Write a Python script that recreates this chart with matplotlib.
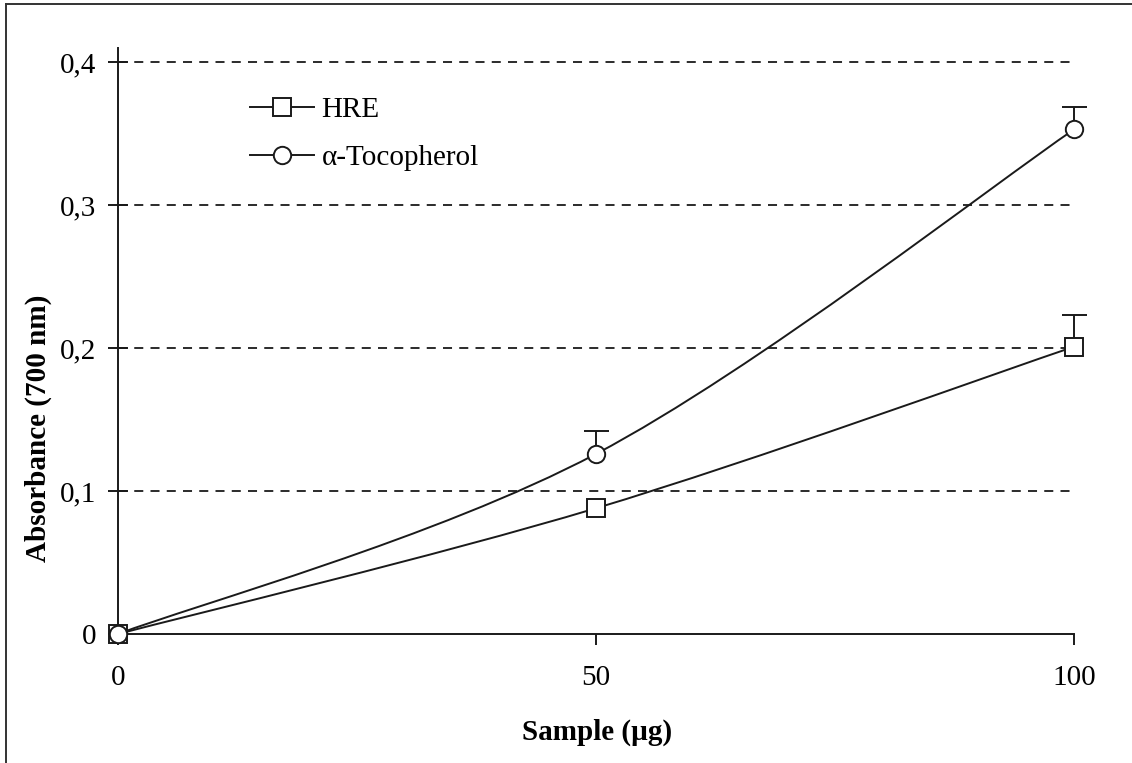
import matplotlib
matplotlib.use("Agg")
import matplotlib.pyplot as plt
from matplotlib.path import Path
from matplotlib.patches import PathPatch
from matplotlib.lines import Line2D
import numpy as np

# ---- data ----
sample_ug = [0, 50, 100]
hre = [0.0, 0.088, 0.201]
hre_err = [0.0, 0.0, 0.022]
toco = [0.0, 0.126, 0.353]
toco_err = [0.0, 0.016, 0.016]
yticks = [0, 0.1, 0.2, 0.3, 0.4]
ytick_labels = ["0", "0,1", "0,2", "0,3", "0,4"]
xticks = [0, 50, 100]
series_names = ["HRE", "α-Tocopherol"]

plt.rcParams['font.family'] = ['Liberation Serif', 'DejaVu Serif']

W, H = 1132, 763
fig = plt.figure(figsize=(W / 100, H / 100), dpi=100)
left, right, bottom, top = 118, 1074, 634, 48
ax = fig.add_axes([left / W, 1 - bottom / H, (right - left) / W, (bottom - top) / H])

ax.set_xlim(0, 100)
ax.set_ylim(0, 0.41)

ink = '#1a1a1a'
FS = 21


def smooth_path(xs, ys):
    pts = np.column_stack([xs, ys]).astype(float)
    n = len(pts)
    verts = [pts[0]]
    codes = [Path.MOVETO]
    for i in range(n - 1):
        p0 = pts[i - 1] if i > 0 else pts[i]
        p1 = pts[i]
        p2 = pts[i + 1]
        p3 = pts[i + 2] if i + 2 < n else pts[i + 1]
        c1 = p1 + (p2 - p0) / 6.0
        c2 = p2 - (p3 - p1) / 6.0
        verts += [c1, c2, p2]
        codes += [Path.CURVE4] * 3
    return Path(np.array(verts), codes)


# grid lines
for yv in yticks[1:]:
    ax.axhline(yv, color=ink, lw=1.3, ls=(0, (5, 4)), zorder=1)

for ys, errs, marker, ms in [(hre, hre_err, 's', 12.5), (toco, toco_err, 'o', 12.5)]:
    ax.add_patch(PathPatch(smooth_path(sample_ug, ys), fc='none', ec=ink, lw=1.4, zorder=3, clip_on=False))
    xe = [x for x, e in zip(sample_ug, errs) if e > 0]
    ye = [y for y, e in zip(ys, errs) if e > 0]
    ee = [e for e in errs if e > 0]
    if xe:
        _, caps, _ = ax.errorbar(xe, ye, yerr=[[0] * len(ee), ee], fmt='none', ecolor=ink,
                                 elinewidth=1.4, capsize=9, capthick=1.4, zorder=2, clip_on=False)
        caps[0].set_visible(False)
    ax.plot(sample_ug, ys, ls='none', marker=marker, ms=ms, mfc='white', mec=ink, mew=1.4,
            zorder=4, clip_on=False)

# legend
handles = [
    Line2D([], [], color=ink, lw=1.4, marker='s', ms=12.5, mfc='white', mec=ink, mew=1.4),
    Line2D([], [], color=ink, lw=1.4, marker='o', ms=12.5, mfc='white', mec=ink, mew=1.4),
]
leg = ax.legend(handles, series_names, loc='upper left',
                bbox_to_anchor=((250 - left) / (right - left), 1 - (97 - top) / (bottom - top)),
                frameon=False, fontsize=FS, handlelength=2.2, handletextpad=0.25,
                labelspacing=0.72, borderaxespad=0, borderpad=0)

# spines
for s in ['top', 'right']:
    ax.spines[s].set_visible(False)
for s in ['left', 'bottom']:
    ax.spines[s].set_color(ink)
    ax.spines[s].set_linewidth(1.4)

ax.set_yticks(yticks)
ax.set_yticklabels(ytick_labels)
ax.set_xticks(xticks)
ax.tick_params(axis='y', direction='inout', length=14, width=1.4, color=ink, labelsize=FS, pad=8.5)
ax.tick_params(axis='x', direction='out', length=8, width=1.4, color=ink, labelsize=FS, pad=14)

fig.text(597 / W, 1 - 732 / H, "Sample (µg)", ha='center', va='center', fontsize=FS, fontweight='bold')
fig.text(38 / W, 1 - 428 / H, "Absorbance (700 nm)", ha='center', va='center', rotation=90,
         fontsize=FS, fontweight='bold')

# outer frame (left & top)
fig.add_artist(Line2D([6 / W, 6 / W], [0, 1 - 4 / H], color='#333333', lw=1.4))
fig.add_artist(Line2D([6 / W, 1], [1 - 4 / H, 1 - 4 / H], color='#333333', lw=1.4))

fig.savefig("out.png", dpi=100)
